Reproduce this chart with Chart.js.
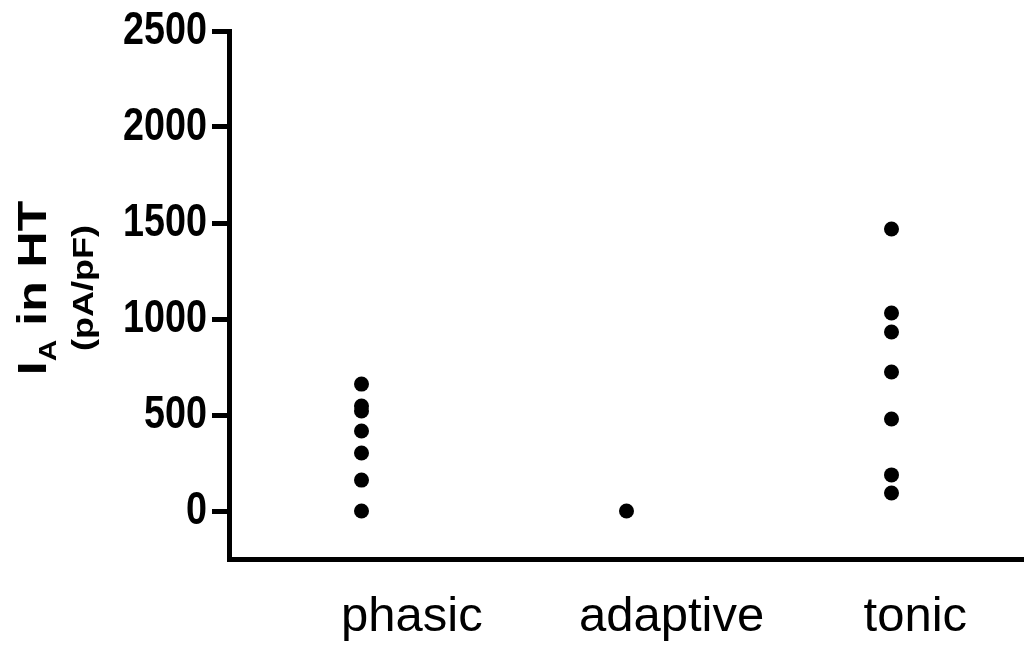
<!DOCTYPE html>
<html>
<head>
<meta charset="utf-8">
<script src="https://cdn.jsdelivr.net/npm/chart.js@4.4.1/dist/chart.umd.min.js"></script>
<style>
  html, body { margin: 0; padding: 0; background: #fff; }
  canvas { display: block; }
</style>
</head>
<body>
<canvas id="chart" width="1024" height="648"></canvas>
<script>
const categories = ['phasic', 'adaptive', 'tonic'];
const phasic = [661, 547, 521, 417, 302, 161, 0];
const adaptive = [0];
const tonic = [1469, 1031, 932, 724, 479, 188, 94];
const yTicks = [0, 500, 1000, 1500, 2000, 2500];

// axis title pieces: I with subscript A, then the rest, then units below
const titleMain = 'I';
const titleSub = 'A';
const titleRest = ' in HT';
const titleUnits = '(pA/pF)';

// category names sit a bit to the right of their dot columns
const labelAt = [1.19, 2.17, 3.09];

const FONT = 'Arial, "Liberation Sans", Helvetica, sans-serif';

const groups = [phasic, adaptive, tonic];
const datasets = groups.map((vals, i) => ({
  label: categories[i],
  data: vals.map(v => ({ x: i + 1, y: v })),
  backgroundColor: '#000',
  borderWidth: 0,
  pointRadius: 7.5,
  pointHoverRadius: 7.5
}));

// text squeezed horizontally on screen, optionally turned upright
function drawSqueezed(ctx, x, y, sx, upright, fn) {
  ctx.save();
  ctx.translate(x, y);
  ctx.scale(sx, 1);
  if (upright) ctx.rotate(-Math.PI / 2);
  ctx.fillStyle = '#000';
  ctx.textBaseline = 'alphabetic';
  fn(ctx);
  ctx.restore();
}

// condensed bold numbers next to the y tick marks
const yLabelsPlugin = {
  id: 'yLabels',
  afterDraw(chart) {
    const s = chart.scales.y;
    const right = s.right - 17 - 5;
    yTicks.forEach(v => {
      drawSqueezed(chart.ctx, right, s.getPixelForValue(v), 0.82, false, c => {
        c.font = 'bold 46px ' + FONT;
        c.textAlign = 'right';
        c.textBaseline = 'middle';
        c.fillText(String(v), 0, 0);
      });
    });
  }
};

const yTitlePlugin = {
  id: 'yTitle',
  afterDraw(chart) {
    const ctx = chart.ctx;
    const cy = 288;
    const big = 'bold 50px ' + FONT;
    const small = 'bold 30px ' + FONT;

    drawSqueezed(ctx, 46, cy, 0.8, true, c => {
      c.font = big;
      const wMain = c.measureText(titleMain).width;
      const wRest = c.measureText(titleRest).width;
      c.font = small;
      const wSub = c.measureText(titleSub).width;
      let x = -(wMain + wSub + wRest) / 2;
      c.font = big;
      c.fillText(titleMain, x, 0);
      x += wMain;
      c.font = small;
      c.fillText(titleSub, x, 13);
      x += wSub;
      c.font = big;
      c.fillText(titleRest, x, 0);
    });

    drawSqueezed(ctx, 93, cy, 0.8, true, c => {
      c.font = 'bold 36px ' + FONT;
      c.textAlign = 'center';
      c.fillText(titleUnits, 0, 0);
    });
  }
};

new Chart(document.getElementById('chart'), {
  type: 'scatter',
  data: { datasets },
  options: {
    responsive: false,
    animation: false,
    layout: { autoPadding: false, padding: { top: 31, right: 0, bottom: 0, left: 0 } },
    plugins: {
      legend: { display: false },
      tooltip: { enabled: false }
    },
    scales: {
      x: {
        type: 'linear',
        min: 0.5,
        max: 3.5,
        afterBuildTicks: s => { s.ticks = labelAt.map(v => ({ value: v })); },
        afterFit: s => { s.height = 89; s.paddingLeft = 0; s.paddingRight = 0; },
        ticks: {
          callback: (v, i) => categories[i],
          color: '#000',
          font: { family: FONT, size: 49 },
          padding: 29,
          maxRotation: 0,
          autoSkip: false
        },
        grid: { display: false, drawTicks: false },
        border: { display: true, color: '#000', width: 5 }
      },
      y: {
        min: -250,
        max: 2500,
        afterBuildTicks: s => { s.ticks = yTicks.map(v => ({ value: v })); },
        afterFit: s => { s.width = 229; s.paddingTop = 0; s.paddingBottom = 0; },
        ticks: { display: false },
        grid: {
          display: true,
          drawOnChartArea: false,
          drawTicks: true,
          tickLength: 17,
          lineWidth: 5,
          color: '#000'
        },
        border: { display: true, color: '#000', width: 5 }
      }
    }
  },
  plugins: [yLabelsPlugin, yTitlePlugin]
});
</script>
</body>
</html>
